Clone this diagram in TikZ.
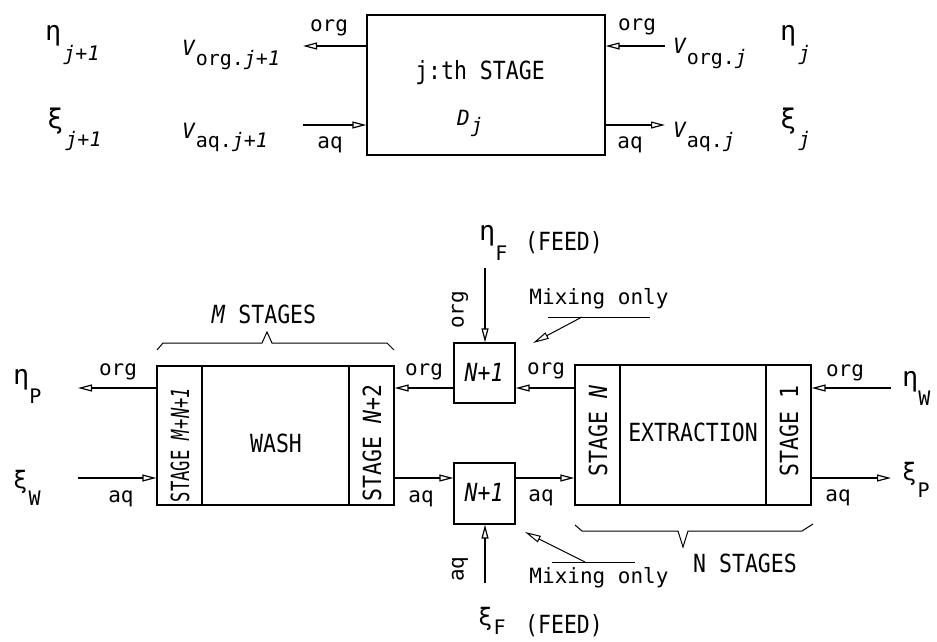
\documentclass[tikz,border=0pt]{standalone}
\usepackage{fontspec}
\setmainfont{DejaVu Sans Mono}
\newfontfamily\capf{DejaVu Sans Mono}[FakeStretch=0.86]
\newfontfamily\lowf{DejaVu Sans Mono}
\usetikzlibrary{arrows.meta}
\newcommand\fs[1]{\fontsize{#1}{#1}\selectfont}
\newcommand\dn[2]{\raisebox{-#1pt}{\lowf\fs{20}#2}}
\tikzset{
  flow/.style={line width=1.8pt, -{Triangle[open,length=14pt,width=7pt,line width=1.2pt]}},
  stagebox/.style={draw, line width=1.3pt, inner sep=0pt},
  divider/.style={line width=1.8pt},
  bracket/.style={line width=1pt, line join=miter},
  pointer/.style={line width=1pt, -{Triangle[open,length=16pt,width=7pt,line width=1pt]}},
  lbl/.style={font={\lowf\fs{21}}, inner sep=0pt},
  capl/.style={font={\capf\fs{25}}, inner sep=0pt},
  sym/.style={font={\lowf\fs{27}}, inner sep=0pt, anchor=base west},
}
\begin{document}
\begin{tikzpicture}[x=1pt,y=-1pt]
\useasboundingbox (0,0) rectangle (937,641);

% ---------- top: j-th stage ----------
\node[stagebox, minimum width=238pt, minimum height=140pt] (S) at (486,85) {};
\node[capl] (Stxt) at (480,73) {j:th STAGE};
\node[sym, font={\lowf\fs{21}}] (Dj) at (457,125) {\textit{D}\hspace{1pt}\dn{7}{\textit{j}}};

\coordinate (tl) at (303,46);
\coordinate (bl) at (303,125);
\coordinate (tr) at (665,46);
\coordinate (br) at (665,125);
\draw[flow] (S.west |- tl) -- (tl);
\draw[flow] (bl) -- (S.west |- bl);
\draw[flow] (tr) -- (S.east |- tr);
\draw[flow] (S.east |- br) -- (br);

\node[lbl] (o1) at (329,28) {org};
\node[lbl] (a1) at (330,145) {aq};
\node[lbl] (o2) at (637,27) {org};
\node[lbl] (a2) at (630,145) {aq};

\node[sym] (etaj1) at (45,40) {η\hspace{2pt}\dn{20}{\textit{j}+\textit{1}}};
\node[sym, font={\lowf\fs{21}}] (Vorg1) at (182,55) {\textit{V}\dn{10}{org.\textit{j}+\textit{1}}};
\node[sym] (xij1) at (47,128) {ξ\hspace{2pt}\dn{18}{\textit{j}+\textit{1}}};
\node[sym, font={\lowf\fs{21}}] (Vaq1) at (182,138) {\textit{V}\dn{9}{aq.\textit{j}+\textit{1}}};
\node[sym, font={\lowf\fs{21}}] (Vorg) at (673,53) {\textit{V}\dn{11}{org.\textit{j}}};
\node[sym] (etaj) at (780,40) {η\hspace{2pt}\dn{20}{\textit{j}}};
\node[sym, font={\lowf\fs{21}}] (Vaq) at (673,137) {\textit{V}\dn{10}{aq.\textit{j}}};
\node[sym] (xij) at (780,128) {ξ\hspace{2pt}\dn{18}{\textit{j}}};

% ---------- bottom: cascade ----------
\node[stagebox, minimum width=237pt, minimum height=139pt] (W) at (275.5,435.5) {};
\node[stagebox, minimum width=236pt, minimum height=140pt] (E) at (693,435) {};
\node[stagebox, minimum width=61pt, minimum height=60pt] (M1) at (484.5,373) {};
\node[stagebox, minimum width=61pt, minimum height=61pt] (M2) at (484.5,493.5) {};

\draw[divider] (202,366) -- (202,505);
\draw[divider] (349,366) -- (349,505);
\draw[divider] (620,365) -- (620,505);
\draw[divider] (766,365) -- (766,505);

\node[capl, rotate=90] (sW1) at (180,445) {\scalebox{0.8}[1]{STAGE \textit{M}+\textit{N}+\textit{1}}};
\node[capl, rotate=90] (sW2) at (372,443) {STAGE \textit{N}+2};
\node[capl, rotate=90] (sE1) at (598,431) {STAGE \textit{N}};
\node[capl, rotate=90] (sE2) at (789,431) {STAGE 1};
\node[capl] (wash) at (276,443) {WASH};
\node[capl] (extr) at (693,432) {EXTRACTION};
\node[capl] (m1t) at (484,372) {\textit{N}+\textit{1}};
\node[capl] (m2t) at (484,492) {\textit{N}+\textit{1}};

% org line
\coordinate (pL) at (78,388);
\coordinate (pR) at (891,388);
\draw[flow] (W.west |- pL) -- (pL);
\draw[flow] (M1.west |- pL) -- (W.east |- pL);
\draw[flow] (E.west |- pL) -- (M1.east |- pL);
\draw[flow] (pR) -- (E.east |- pR);
% aq line
\coordinate (qL) at (78,478);
\coordinate (qR) at (891,478);
\draw[flow] (qL) -- (W.west |- qL);
\draw[flow] (W.east |- qL) -- (M2.west |- qL);
\draw[flow] (M2.east |- qL) -- (E.west |- qL);
\draw[flow] (E.east |- qR) -- (qR);
% feeds
\coordinate (fT) at (485,268);
\coordinate (fB) at (485,583);
\draw[flow] (fT) -- (fT |- M1.north);
\draw[flow] (fB) -- (fB |- M2.south);

\node[lbl] (o3) at (118,372) {org};
\node[lbl] (o4) at (424,372) {org};
\node[lbl] (o5) at (546,371) {org};
\node[lbl] (o6) at (845,373) {org};
\node[lbl] (a3) at (121,499) {aq};
\node[lbl] (a4) at (421,499) {aq};
\node[lbl] (a5) at (541,498) {aq};
\node[lbl] (a6) at (838,498) {aq};
\node[lbl, rotate=90] (o7) at (460,310) {org};
\node[lbl, rotate=90] (a7) at (460,569) {aq};

\node[sym] (etaP) at (13,384) {η\dn{19}{P}};
\node[sym, font={\lowf\fs{24}}] (xiW) at (13,488) {ξ\hspace{1pt}\dn{17}{W}};
\node[sym] (etaW) at (902,386) {η\dn{19}{W}};
\node[sym, font={\lowf\fs{24}}] (xiP) at (902,480) {ξ\hspace{1pt}\dn{17}{P}};
\node[sym] (etaF) at (479,240) {η\dn{20}{F}};
\node[capl, anchor=base west] (feedT) at (525,250) {(FEED)};
\node[sym, font={\lowf\fs{24}}] (xiF) at (478,625) {ξ\hspace{1pt}\dn{9}{F}};
\node[capl, anchor=base west] (feedB) at (525,633) {(FEED)};

% brackets
\draw[bracket] (157,350) -- (163,343) -- (262,343) -- (267,332) -- (272,343) -- (387,343) -- (394,350);
\node[capl] (mst) at (264,314) {\textit{M} STAGES};
\draw[bracket] (575,525) -- (582,531) -- (678,531) -- (683,547) -- (688,531) -- (802,531) -- (813,524);
\node[capl] (nst) at (745,563) {N STAGES};

% mixing only
\node[lbl, anchor=base] (mixT) at (599,304) {Mixing only};
\coordinate (uT1) at (548,317);
\coordinate (uT2) at (650,317);
\coordinate (aT) at (582,317);
\coordinate (tipT) at (533,343);
\draw[bracket] (uT1) -- (uT2);
\draw[pointer] (aT) -- (tipT);

\node[lbl, anchor=base] (mixB) at (599,583) {Mixing only};
\coordinate (uB1) at (552,562);
\coordinate (uB2) at (635,562);
\coordinate (aB) at (585,562);
\coordinate (tipB) at (525,532);
\draw[bracket] (uB1) -- (uB2);
\draw[pointer] (aB) -- (tipB);
\end{tikzpicture}
\end{document}
